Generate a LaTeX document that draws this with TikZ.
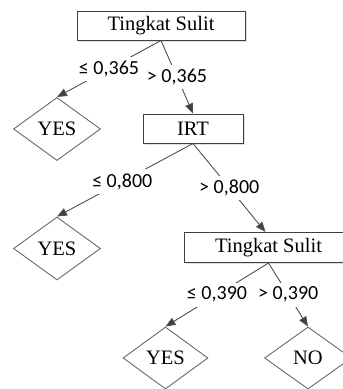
\documentclass[tikz,border=0pt]{standalone}
\usepackage{fontspec}
\setmainfont{Liberation Serif}
\newfontfamily\labfont{Carlito}
\usetikzlibrary{shapes.geometric,arrows.meta,shadows}
\definecolor{edgec}{HTML}{505050}
\definecolor{boxc}{HTML}{404040}
\definecolor{leafc}{HTML}{6A6A6A}
\begin{document}
\begin{tikzpicture}[x=1pt,y=-1pt,
  boxnode/.style={draw=boxc,line width=1pt,fill=white,minimum height=29pt,inner sep=0pt,
    font=\fontsize{20.5}{24}\selectfont,
    drop shadow={shadow xshift=1.5pt,shadow yshift=-1.5pt,opacity=0.25}},
  leaf/.style={diamond,draw=leafc,line width=0.9pt,fill=white,inner sep=0pt,
    minimum width=87pt,minimum height=63pt,font=\fontsize{20.5}{24}\selectfont},
  conn/.style={draw=edgec,line width=0.9pt,-{Triangle[length=10pt,width=8pt,fill=boxc]}},
  lab/.style={fill=white,inner sep=4pt,font=\labfont\fontsize{20}{24}\selectfont,text=black}
]
\useasboundingbox (0,0) rectangle (343,389);
\node[boxnode,minimum width=168pt] (b1) at (161,25.5) {Tingkat Sulit};
\node[boxnode,minimum width=100pt] (irt) at (193,128.5) {IRT};
\node[boxnode,minimum width=168pt,minimum height=30pt] (b2) at (268.5,247.5) {Tingkat Sulit};
\node[leaf] (y1) at (57,129) {YES};
\node[leaf] (y2) at (57,248.5) {YES};
\node[leaf,minimum width=85pt,minimum height=62pt] (y3) at (165.5,358) {YES};
\node[leaf,minimum height=62pt] (no) at (308,358) {NO};

\draw[conn] (b1.south) -- node[lab,pos=0.5] {≤ 0,365} (y1.north);
\draw[conn] (b1.south) -- node[lab,pos=0.5] {> 0,365} (irt.north);
\draw[conn] (irt.south) -- node[lab,pos=0.52] {≤ 0,800} (y2.north);
\draw[conn] (irt.south) -- node[lab,pos=0.5] {> 0,800} ([xshift=-3pt]b2.north);
\draw[conn] (b2.south) -- node[lab,pos=0.5] {≤ 0,390} (y3.north);
\draw[conn] (b2.south) -- node[lab,pos=0.5] {> 0,390} (no.north);
\end{tikzpicture}
\end{document}
